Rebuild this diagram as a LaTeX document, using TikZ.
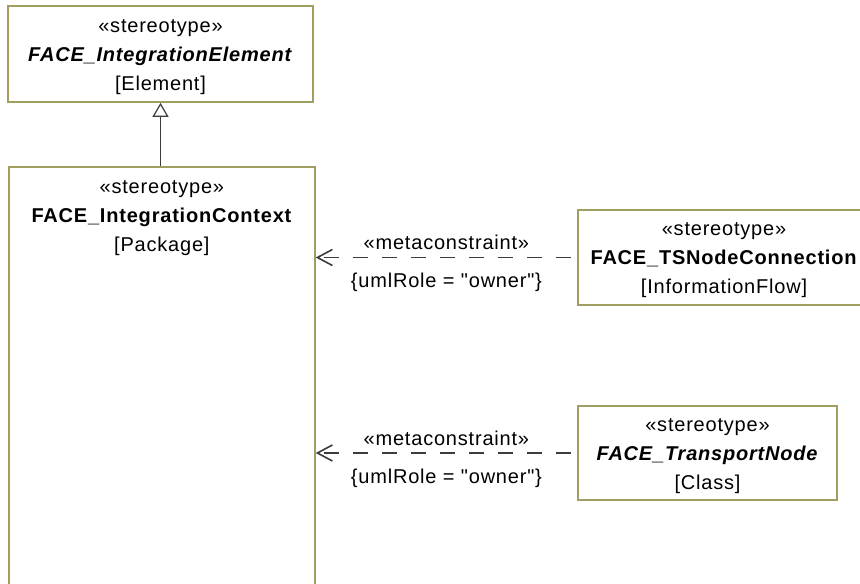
\documentclass[tikz,border=0pt]{standalone}
\usepackage{fontspec}
\setmainfont{Liberation Sans}[Ligatures=TeXOff, LetterSpace=4]
\usepackage{tikz}
\usetikzlibrary{positioning, arrows.meta}
\definecolor{BoxOlive}{RGB}{160,158,96}
\definecolor{LineGray}{RGB}{60,60,60}
\tikzset{
  umlbox/.style={draw=BoxOlive, line width=1.7pt, fill=white, inner sep=0pt},
  umltext/.style={align=center, font=\fontsize{20}{29}\selectfont, inner sep=0pt},
  lbl/.style={font=\fontsize{20}{22}\selectfont, inner sep=0pt},
  depline/.style={draw=LineGray, line width=1.6pt, dash pattern=on 15pt off 14pt, dash phase=23pt,
    -{Straight Barb[length=15pt, width=16pt]}},
  genline/.style={draw=LineGray, line width=1.6pt,
    -{Triangle[open, length=14pt, width=16pt, fill=white, line width=1.2pt]}}
}

\begin{document}
\begin{tikzpicture}[x=1pt, y=-1pt]
  \clip (0,0) rectangle (860,584);
  % boxes
  \node[umlbox, minimum width=305pt, minimum height=96pt] (elem) at (160.5,54) {};
  \node[umlbox, minimum width=306pt, minimum height=500pt, anchor=north west] (ctx) at (8,166) {};
  \node[umlbox, minimum width=292pt, minimum height=95pt] (tsn) at (724,257.5) {};
  \node[umlbox, minimum width=259pt, minimum height=94pt] (trn) at (707.5,453) {};
  % box texts
  \node[umltext] (elemlbl) at ([yshift=-3pt]elem.center)
    {«stereotype»\\ \textbf{\textit{FACE\_IntegrationElement}}\\ {}[Element]};
  \node[umltext] (ctxlbl) at ([yshift=-52pt]ctx.north)
    {«stereotype»\\ \textbf{FACE\_IntegrationContext}\\ {}[Package]};
  \node[umltext] (tsnlbl) at ([yshift=-3pt]tsn.center)
    {«stereotype»\\ \textbf{FACE\_TSNodeConnection}\\ {}[InformationFlow]};
  \node[umltext] (trnlbl) at ([yshift=-3pt]trn.center)
    {«stereotype»\\ \textbf{\textit{FACE\_TransportNode}}\\ {}[Class]};
  % generalization
  \draw[genline] (ctx.north -| elem.south) -- (elem.south);
  % metaconstraints
  \draw[depline] (tsn.west) -- (tsn.west -| ctx.east)
    node[lbl, midway, yshift=15pt] (mc1) {«metaconstraint»}
    node[lbl, midway, yshift=-25pt] (role1) {\{umlRole = "owner"\}};
  \draw[depline] (trn.west) -- (trn.west -| ctx.east)
    node[lbl, midway, yshift=15pt] (mc2) {«metaconstraint»}
    node[lbl, midway, yshift=-25pt] (role2) {\{umlRole = "owner"\}};
\end{tikzpicture}
\end{document}
